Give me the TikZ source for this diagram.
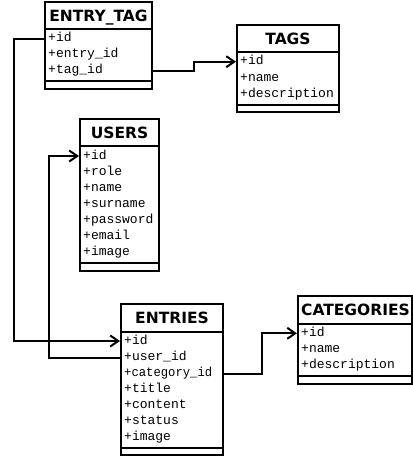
\documentclass[tikz,border=0pt]{standalone}
\usepackage{fontspec}
\usetikzlibrary{arrows.meta}
\newfontfamily\ttlfont{DejaVu Sans}
\newfontfamily\fldfont{Liberation Mono}
\begin{document}
\begin{tikzpicture}[x=1pt,y=-1pt,
 box/.style={draw, line width=2pt, inner sep=0pt},
 sepline/.style={line width=2pt},
 ttl/.style={font=\ttlfont\bfseries\fontsize{15.5}{15.5}\selectfont, inner sep=0pt, text height=11.3pt, text depth=0pt},
 fld/.style={font=\fldfont\fontsize{13}{13}\selectfont, anchor=west, inner sep=0pt, text height=9pt, text depth=3pt},
 conn/.style={line width=2pt},
 arr/.style={conn, -{Straight Barb[length=8pt,width=11pt]}}]
\useasboundingbox (0,0) rectangle (413,456);

% ENTRY_TAG
\node[box, minimum width=107pt, minimum height=87pt] (et) at (98.5,45.5) {};
\draw[sepline] (45,29) -- (152,29);
\draw[sepline] (45,81) -- (152,81);
\node[ttl] (ett) at (98.5,15.8) {ENTRY\_TAG};
\node[fld] (etid) at (48,38.5) {+id};
\node[fld] (eteid) at (48,54.5) {+entry\_id};
\node[fld] (ettid) at (48,70.5) {+tag\_id};

% TAGS
\node[box, minimum width=102pt, minimum height=87pt] (tg) at (288,68.5) {};
\draw[sepline] (237,52) -- (339,52);
\draw[sepline] (237,105) -- (339,105);
\node[ttl] (tgt) at (288,38.5) {TAGS};
\node[fld] (tgid) at (240,61.7) {+id};
\node[fld] (tgname) at (240,78) {+name};
\node[fld] (tgdesc) at (240,94) {+description};

% USERS
\node[box, minimum width=79pt, minimum height=152pt] (us) at (119.5,195) {};
\draw[sepline] (80,146) -- (159,146);
\draw[sepline] (80,263) -- (159,263);
\node[ttl] (ust) at (119.5,132.5) {USERS};
\node[fld] (usid) at (83,156) {+id};
\node[fld] (usrole) at (83,172) {+role};
\node[fld] (usname) at (83,188) {+name};
\node[fld] (ussur) at (83,204) {+surname};
\node[fld] (uspass) at (83,220) {+password};
\node[fld] (usmail) at (83,236) {+email};
\node[fld] (usimg) at (83,252) {+image};

% ENTRIES
\node[box, minimum width=102pt, minimum height=151pt] (en) at (172,379.5) {};
\draw[sepline] (121,332) -- (223,332);
\draw[sepline] (121,447.5) -- (223,447.5);
\node[ttl] (ent) at (172,318) {ENTRIES};
\node[fld] (enid) at (124,341) {+id};
\node[fld] (enuid) at (124,357.5) {+user\_id};
\node[fld, xscale=0.94] (encid) at (124,373.5) {+category\_id};
\node[fld] (entitle) at (124,389.5) {+title};
\node[fld] (encont) at (124,405.5) {+content};
\node[fld] (enstat) at (124,421.5) {+status};
\node[fld] (enimg) at (124,437.5) {+image};

% CATEGORIES
\node[box, minimum width=113.5pt, minimum height=88pt] (ca) at (354.75,340) {};
\draw[sepline] (298,324) -- (411.5,324);
\draw[sepline] (298,376) -- (411.5,376);
\node[ttl] (cat) at (355.5,310) {CATEGORIES};
\node[fld] (caid) at (301,333.3) {+id};
\node[fld] (caname) at (301,349.5) {+name};
\node[fld] (cadesc) at (301,365.5) {+description};

% connectors
\draw[arr] (et.west |- etid) -- ++(-30,0) |- (en.west |- enid);
\draw[arr] (et.east |- ettid) -- ++(41,0) |- (tg.west |- tgid);
\draw[arr] (en.west |- enuid) -- ++(-71,0) |- (us.west |- usid);
\draw[arr] (en.east |- encid) -- ++(38,0) |- (ca.west |- caid);
\end{tikzpicture}
\end{document}
